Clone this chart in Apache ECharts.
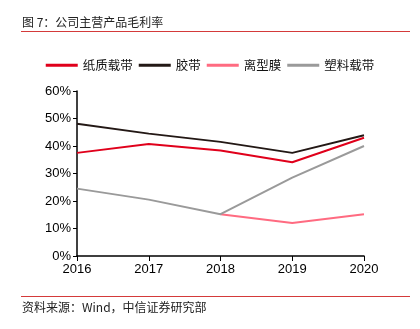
<!DOCTYPE html>
<html><head><meta charset="utf-8">
<script src="https://cdn.jsdelivr.net/npm/echarts@6/dist/echarts.min.js"></script>
<style>html,body{margin:0;padding:0;background:#fff}#c{width:420px;height:329px}</style>
</head><body><div id="c"></div>
<script>
const categories = ['2016','2017','2018','2019','2020'];
const paperTape = [37.5, 40.7, 38.4, 34.1, 43.0];
const adhesiveTape = [48.1, 44.5, 41.5, 37.5, 43.9];
const releaseFilm = [null, null, 15.2, 12.0, 15.2];
const plasticTape = [24.5, 20.5, 15.2, 28.5, 40.0];
const seriesNames = ['纸质载带','胶带','离型膜','塑料载带'];
const colors = ['#e0001b','#231815','#ff6b81','#9a9a9a'];
const yTicks = [0,10,20,30,40,50,60];

const font = '"Liberation Sans", Arial, "Noto Sans CJK SC", sans-serif';
const chart = echarts.init(document.getElementById('c'));
const mk = (name, data, color) => ({
  name, type:'line', data, symbol:'none', connectNulls:false,
  lineStyle:{color, width:2}, itemStyle:{color}
});
chart.setOption({
  animation:false,
  textStyle:{fontFamily:font},
  graphic:[
    {type:'text', left:22, top:16, style:{text:'图 7：公司主营产品毛利率', font:'12px "Noto Sans CJK SC"', fill:'#222'}},
    {type:'line', shape:{x1:21,y1:31.5,x2:410,y2:31.5}, style:{stroke:'#d43a3a', lineWidth:1}},
    {type:'line', shape:{x1:21,y1:296.5,x2:410,y2:296.5}, style:{stroke:'#d43a3a', lineWidth:1}},
    {type:'text', left:22, top:301, style:{text:'资料来源：Wind，中信证券研究部', font:'12px "Noto Sans CJK SC"', fill:'#222'}}
  ],
  legend:{
    top:54, left:'center', itemWidth:32, itemHeight:3, itemGap:6,
    icon:'rect',
    textStyle:{fontSize:12.5, color:'#111', fontFamily:'"Noto Sans CJK SC"'},
    data:seriesNames
  },
  grid:{left:77, right:56, top:91, bottom:73},
  xAxis:{
    type:'category', data:categories, boundaryGap:false,
    axisLine:{lineStyle:{color:'#000', width:1.5}},
    axisTick:{show:true, length:5, lineStyle:{color:'#000'}},
    axisLabel:{fontSize:13, color:'#000', margin:7}
  },
  yAxis:{
    type:'value', min:0, max:60, interval:10,
    axisLine:{show:true, lineStyle:{color:'#000', width:1.5}},
    axisTick:{show:true, length:4, lineStyle:{color:'#000'}},
    splitLine:{show:false},
    axisLabel:{fontSize:13, color:'#000', margin:6, formatter:v=>v+'%'}
  },
  series:[
    mk(seriesNames[0], paperTape, colors[0]),
    mk(seriesNames[1], adhesiveTape, colors[1]),
    mk(seriesNames[2], releaseFilm, colors[2]),
    mk(seriesNames[3], plasticTape, colors[3])
  ]
});
</script></body></html>
